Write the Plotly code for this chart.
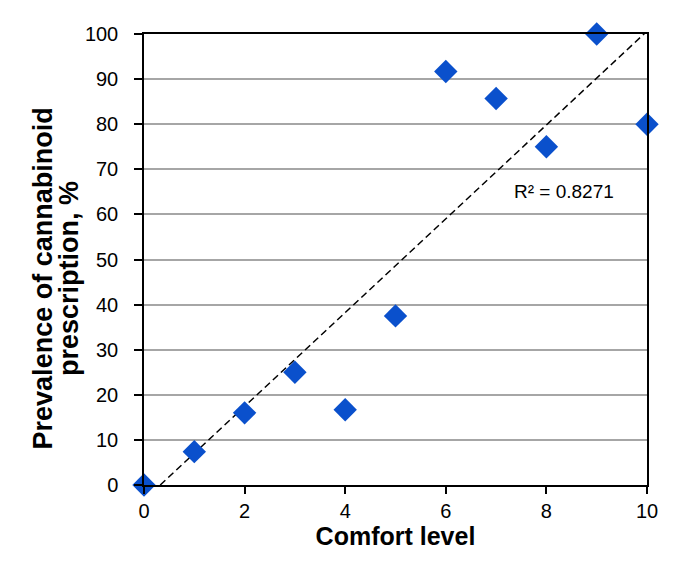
import numpy as np
import plotly.graph_objects as go

comfort = [0, 1, 2, 3, 4, 5, 6, 7, 8, 9, 10]
prevalence = [0, 7.4, 16, 25, 16.7, 37.5, 91.7, 85.7, 75, 100, 80]
r2_label = "R² = 0.8271"

slope, intercept = np.polyfit(comfort, prevalence, 1)
x_start = -intercept / slope
trend_x = [x_start, max(comfort)]
trend_y = [slope * x + intercept for x in trend_x]

fig = go.Figure()
fig.add_trace(go.Scatter(
    x=trend_x, y=trend_y, mode="lines",
    line=dict(color="black", width=1.5, dash="7px,4px"),
    hoverinfo="skip", showlegend=False,
))
fig.add_trace(go.Scatter(
    x=comfort, y=prevalence, mode="markers",
    marker=dict(symbol="diamond", size=18, color="#0a50cc", line=dict(width=0)),
    cliponaxis=False, showlegend=False,
))
fig.add_annotation(x=8.35, y=65, text=r2_label, showarrow=False,
                   font=dict(size=19, color="black"))

# y-axis title as two rotated lines
fig.add_annotation(xref="paper", yref="paper", x=-0.2008, y=0.458,
                   text="<b>Prevalence of cannabinoid</b>", textangle=-90,
                   showarrow=False, xanchor="center", yanchor="middle",
                   font=dict(size=27, color="black"))
fig.add_annotation(xref="paper", yref="paper", x=-0.148, y=0.458,
                   text="<b>prescription, %</b>", textangle=-90,
                   showarrow=False, xanchor="center", yanchor="middle",
                   font=dict(size=27, color="black"))

fig.update_layout(
    width=687, height=566,
    margin=dict(l=136, r=48, t=26, b=89),
    paper_bgcolor="white", plot_bgcolor="white",
    font=dict(family="Arial, Liberation Sans, sans-serif", color="black"),
)
fig.update_xaxes(
    range=[0, 10], dtick=2, tick0=0, showgrid=False, zeroline=False,
    showline=True, linecolor="black", linewidth=1.5, mirror=True,
    ticks="outside", ticklen=7, tickwidth=1.5, tickcolor="black",
    tickfont=dict(size=20),
    title=dict(text="<b>Comfort level</b>", font=dict(size=25), standoff=4),
)
fig.update_yaxes(
    range=[0, 100], dtick=10, tick0=0, showgrid=True, gridcolor="#a6a6a6", gridwidth=1.5,
    zeroline=False, showline=True, linecolor="black", linewidth=1.5, mirror=True,
    ticks="outside", ticklen=8, tickwidth=1.5, tickcolor="black",
    tickfont=dict(size=20), ticklabelstandoff=12,
)

fig.write_html("out.html")
